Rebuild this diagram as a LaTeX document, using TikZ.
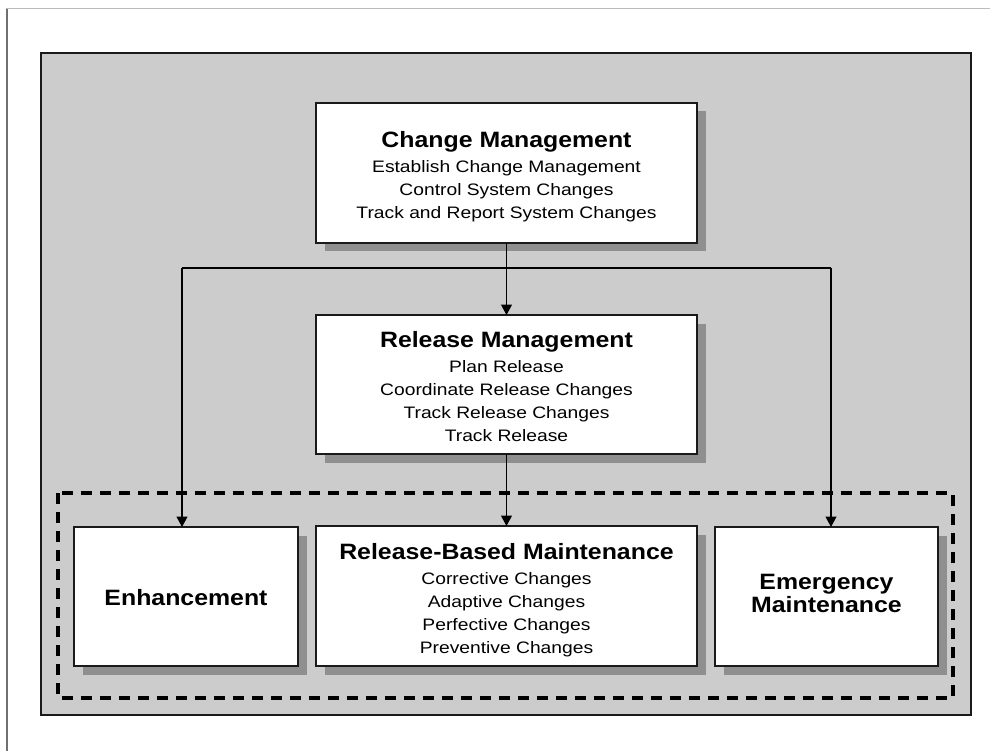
\documentclass[tikz,border=0pt]{standalone}
\usepackage{fontspec}
\setmainfont{Liberation Sans}
\newfontfamily\itemface{Liberation Sans}[FakeStretch=1.16]
\newfontfamily\headface{Liberation Sans}[FakeStretch=1.12]
\usetikzlibrary{arrows.meta,shadows}
\definecolor{panelgray}{HTML}{CCCCCC}
\definecolor{shadowgray}{HTML}{8F8F8F}
\definecolor{frameline}{HTML}{1A1A1A}
\definecolor{pagerule}{HTML}{BBBBBB}
\definecolor{pageedge}{HTML}{707070}

\begin{document}
\begin{tikzpicture}[x=1pt,y=-1pt,
  panel/.style={draw=frameline, line width=1.5pt, fill=panelgray},
  groupframe/.style={draw=black, line width=3.2pt, dash pattern=on 11pt off 8pt},
  procbox/.style={draw=frameline, line width=1.3pt, fill=white, inner sep=0pt, outer sep=0pt,
     minimum height=139pt,
     drop shadow={shadow xshift=8.5pt, shadow yshift=-8.5pt, fill=shadowgray, opacity=1}},
  headtext/.style={anchor=base, inner sep=0pt, font=\headface\bfseries\fontsize{22.2}{23}\selectfont},
  itemtext/.style={anchor=base, inner sep=0pt, font=\itemface\fontsize{16.6}{23}\selectfont},
  link/.style={draw=black, line width=1.2pt},
  flow/.style={link, -{Triangle[width=11pt,length=10.5pt]}}]

\useasboundingbox (0,0) rectangle (990,751);

% page edges
\draw[pagerule, line width=1pt] (6,9) -- (990,9);
\draw[pageedge, line width=1.5pt] (7,9) -- (7,751);

% grey background panel and the dashed maintenance group
\draw[panel] (41,53) rectangle (971,715);
\draw[groupframe] (58,493) rectangle (953,698);

% process boxes
\node[procbox, minimum width=381pt, minimum height=140pt] (cm) at (506.5,173) {};
\node[procbox, minimum width=381pt] (rm) at (506.5,384.5) {};
\node[procbox, minimum width=224pt] (enh) at (186,596.5) {};
\node[procbox, minimum width=381pt, minimum height=140pt] (rbm) at (506.5,596) {};
\node[procbox, minimum width=223pt] (em) at (826.5,596.5) {};

% Change Management
\node[headtext] (cmhead) at (506.5,148) {Change Management};
\node[itemtext] (cm1) at (506.5,173) {Establish Change Management};
\node[itemtext] (cm2) at (506.5,196) {Control System Changes};
\node[itemtext] (cm3) at (506.5,219) {Track and Report System Changes};

% Release Management
\node[headtext] (rmhead) at (506.5,347) {Release Management};
\node[itemtext] (rm1) at (506.5,372) {Plan Release};
\node[itemtext] (rm2) at (506.5,395) {Coordinate Release Changes};
\node[itemtext] (rm3) at (506.5,418) {Track Release Changes};
\node[itemtext] (rm4) at (506.5,441) {Track Release};

% maintenance types
\node[headtext] (enhhead) at (186,605) {Enhancement};

\node[headtext] (rbmhead) at (506.5,559) {Release-Based Maintenance};
\node[itemtext] (rbm1) at (506.5,584) {Corrective Changes};
\node[itemtext] (rbm2) at (506.5,607) {Adaptive Changes};
\node[itemtext] (rbm3) at (506.5,630) {Perfective Changes};
\node[itemtext] (rbm4) at (506.5,653) {Preventive Changes};

\node[headtext] (emhead1) at (826.5,589) {Emergency};
\node[headtext] (emhead2) at (826.5,612) {Maintenance};

% connectors
\coordinate (splitL) at (182,268);
\coordinate (splitR) at (831,268);
\draw[flow] (cm.south) -- (rm.north);
\draw[link] (splitL) -- (splitR);
\draw[flow] (splitL) -- (splitL |- enh.north);
\draw[flow] (splitR) -- (splitR |- em.north);
\draw[flow] (rm.south) -- (rbm.north);
\end{tikzpicture}
\end{document}
